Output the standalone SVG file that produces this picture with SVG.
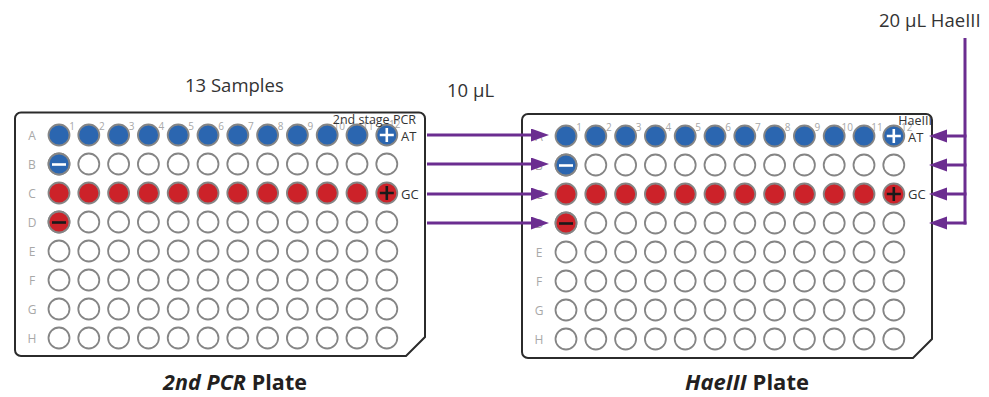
<svg xmlns="http://www.w3.org/2000/svg" xmlns:xlink="http://www.w3.org/1999/xlink" width="989" height="397" viewBox="0 0 989 397">
<style>
text{font-family:"Open Sans","Noto Sans","Liberation Sans",sans-serif}
.plate{fill:#fff;stroke:#2b2b2b;stroke-width:2}
.w{fill:#fff;stroke:#858585;stroke-width:1.8}
.b{fill:#2b66b0;stroke:#858585;stroke-width:1.8}
.r{fill:#cc2229;stroke:#858585;stroke-width:1.8}
.rl{font-size:12px;fill:#a8a8a8;text-anchor:middle}
.cn{font-size:10px;fill:#a8a8a8;text-anchor:middle}
.lbl{font-size:13px;fill:#333}
.big{font-size:18.5px;fill:#333}
.title{font-size:21.5px;font-weight:bold;fill:#231f20}
.sw{stroke:#fff;stroke-width:2.6;fill:none}
.sk{stroke:#1a1a1a;stroke-width:2.6;fill:none}
.conn{stroke:#6b2d90;stroke-width:3;fill:none}
</style>
<defs>
<marker id="ah" markerUnits="userSpaceOnUse" markerWidth="19" markerHeight="14" refX="1" refY="6.5" orient="auto">
<path d="M0,0 L18,6.5 L0,13 Z" fill="#6b2d90"/>
</marker>
<g id="roww">
<circle class="w" cx="0" cy="0" r="10.5"/><circle class="w" cx="29.8" cy="0" r="10.5"/><circle class="w" cx="59.6" cy="0" r="10.5"/><circle class="w" cx="89.4" cy="0" r="10.5"/><circle class="w" cx="119.2" cy="0" r="10.5"/><circle class="w" cx="149" cy="0" r="10.5"/><circle class="w" cx="178.8" cy="0" r="10.5"/><circle class="w" cx="208.6" cy="0" r="10.5"/><circle class="w" cx="238.4" cy="0" r="10.5"/><circle class="w" cx="268.2" cy="0" r="10.5"/><circle class="w" cx="298" cy="0" r="10.5"/><circle class="w" cx="327.8" cy="0" r="10.5"/>
</g>
<g id="rowb">
<circle class="b" cx="0" cy="0" r="10.5"/><circle class="b" cx="29.8" cy="0" r="10.5"/><circle class="b" cx="59.6" cy="0" r="10.5"/><circle class="b" cx="89.4" cy="0" r="10.5"/><circle class="b" cx="119.2" cy="0" r="10.5"/><circle class="b" cx="149" cy="0" r="10.5"/><circle class="b" cx="178.8" cy="0" r="10.5"/><circle class="b" cx="208.6" cy="0" r="10.5"/><circle class="b" cx="238.4" cy="0" r="10.5"/><circle class="b" cx="268.2" cy="0" r="10.5"/><circle class="b" cx="298" cy="0" r="10.5"/><circle class="b" cx="327.8" cy="0" r="10.5"/>
</g>
<g id="rowr">
<circle class="r" cx="0" cy="0" r="10.5"/><circle class="r" cx="29.8" cy="0" r="10.5"/><circle class="r" cx="59.6" cy="0" r="10.5"/><circle class="r" cx="89.4" cy="0" r="10.5"/><circle class="r" cx="119.2" cy="0" r="10.5"/><circle class="r" cx="149" cy="0" r="10.5"/><circle class="r" cx="178.8" cy="0" r="10.5"/><circle class="r" cx="208.6" cy="0" r="10.5"/><circle class="r" cx="238.4" cy="0" r="10.5"/><circle class="r" cx="268.2" cy="0" r="10.5"/><circle class="r" cx="298" cy="0" r="10.5"/><circle class="r" cx="327.8" cy="0" r="10.5"/>
</g>
</defs>
<rect width="989" height="397" fill="#fff"/>

<g id="plate-2nd-pcr">
<path class="plate" d="M21,112.5 H419 A6,6 0 0 1 425,118.5 V337 L406,356 H21 A6,6 0 0 1 15,350 V118.5 A6,6 0 0 1 21,112.5 Z"/>
<text class="rl" x="32" y="139.5">A</text><text class="rl" x="32" y="168.5">B</text><text class="rl" x="32" y="197.5">C</text><text class="rl" x="32" y="226.5">D</text><text class="rl" x="32" y="255.5">E</text><text class="rl" x="32" y="284.5">F</text><text class="rl" x="32" y="313.5">G</text><text class="rl" x="32" y="342.5">H</text>
<text class="cn" x="72" y="130">1</text><text class="cn" x="101.8" y="130">2</text><text class="cn" x="131.6" y="130">3</text><text class="cn" x="161.4" y="130">4</text><text class="cn" x="191.2" y="130">5</text><text class="cn" x="221" y="130">6</text><text class="cn" x="250.8" y="130">7</text><text class="cn" x="280.6" y="130">8</text><text class="cn" x="310.4" y="130">9</text><text class="cn" x="339.2" y="130">10</text><text class="cn" x="368" y="130">11</text><text class="cn" x="394.8" y="128">12</text>
<use href="#rowb" x="59" y="135"/>
<use href="#roww" x="59" y="164"/>
<use href="#rowr" x="59" y="193"/>
<use href="#roww" x="59" y="222"/>
<use href="#roww" x="59" y="251"/>
<use href="#roww" x="59" y="280"/>
<use href="#roww" x="59" y="309"/>
<use href="#roww" x="59" y="338"/>
<circle class="b" cx="59" cy="164" r="10.5"/>
<circle class="r" cx="59" cy="222" r="10.5"/>
<path class="sw" d="M52,164.5 H66"/>
<path class="sk" d="M52,222.5 H66"/>
<path class="sw" d="M379.8,135 H393.8 M386.8,128 V142"/>
<path class="sk" d="M379.8,193 H393.8 M386.8,186 V200"/>
<text class="lbl" x="416" y="124" text-anchor="end" style="font-size:12.5px">2nd stage PCR</text>
<text class="lbl" x="401" y="141">AT</text>
<text class="lbl" x="401" y="199">GC</text>
</g>

<g id="plate-haeiii">
<path class="plate" d="M528,114 H926 A6,6 0 0 1 932,120 V339 L913,358 H528 A6,6 0 0 1 522,352 V120 A6,6 0 0 1 528,114 Z"/>
<text class="rl" x="539" y="140.5">A</text><text class="rl" x="539" y="169.5">B</text><text class="rl" x="539" y="198.5">C</text><text class="rl" x="539" y="227.5">D</text><text class="rl" x="539" y="256.5">E</text><text class="rl" x="539" y="285.5">F</text><text class="rl" x="539" y="314.5">G</text><text class="rl" x="539" y="343.5">H</text>
<text class="cn" x="579" y="131">1</text><text class="cn" x="608.8" y="131">2</text><text class="cn" x="638.6" y="131">3</text><text class="cn" x="668.4" y="131">4</text><text class="cn" x="698.2" y="131">5</text><text class="cn" x="728" y="131">6</text><text class="cn" x="757.8" y="131">7</text><text class="cn" x="787.6" y="131">8</text><text class="cn" x="817.4" y="131">9</text><text class="cn" x="847.2" y="131">10</text><text class="cn" x="877" y="131">11</text><text class="cn" x="906.8" y="131">12</text>
<use href="#rowb" x="566" y="136"/>
<use href="#roww" x="566" y="165"/>
<use href="#rowr" x="566" y="194"/>
<use href="#roww" x="566" y="223"/>
<use href="#roww" x="566" y="252"/>
<use href="#roww" x="566" y="281"/>
<use href="#roww" x="566" y="310"/>
<use href="#roww" x="566" y="339"/>
<circle class="b" cx="566" cy="165" r="10.5"/>
<circle class="r" cx="566" cy="223" r="10.5"/>
<path class="sw" d="M559,165.5 H573"/>
<path class="sk" d="M559,223.5 H573"/>
<path class="sw" d="M886.8,136 H900.8 M893.8,129 V143"/>
<path class="sk" d="M886.8,194 H900.8 M893.8,187 V201"/>
<text class="lbl" x="932" y="124.5" text-anchor="end" style="font-size:12.5px">HaeIII</text>
<text class="lbl" x="908" y="142">AT</text>
<text class="lbl" x="908" y="199">GC</text>
</g>

<g id="connectors">
<path class="conn" d="M427,135 H532" marker-end="url(#ah)"/>
<path class="conn" d="M427,164 H532" marker-end="url(#ah)"/>
<path class="conn" d="M427,194 H532" marker-end="url(#ah)"/>
<path class="conn" d="M427,223 H532" marker-end="url(#ah)"/>
<path class="conn" d="M965,38 V224.5"/>
<path class="conn" d="M966.5,136 H946" marker-end="url(#ah)"/>
<path class="conn" d="M966.5,165 H946" marker-end="url(#ah)"/>
<path class="conn" d="M966.5,194 H946" marker-end="url(#ah)"/>
<path class="conn" d="M966.5,223 H946" marker-end="url(#ah)"/>
</g>

<g id="labels">
<text class="big" x="185" y="92">13 Samples</text>
<text class="big" x="447" y="97">10 µL</text>
<text class="big" x="879" y="27">20 µL HaeIII</text>
<text class="title" x="163" y="390" textLength="144" lengthAdjust="spacing"><tspan font-style="italic">2nd PCR</tspan> Plate</text>
<text class="title" x="747" y="390" text-anchor="middle" style="font-size:22px"><tspan font-style="italic">HaeIII</tspan> Plate</text>
</g>
</svg>
